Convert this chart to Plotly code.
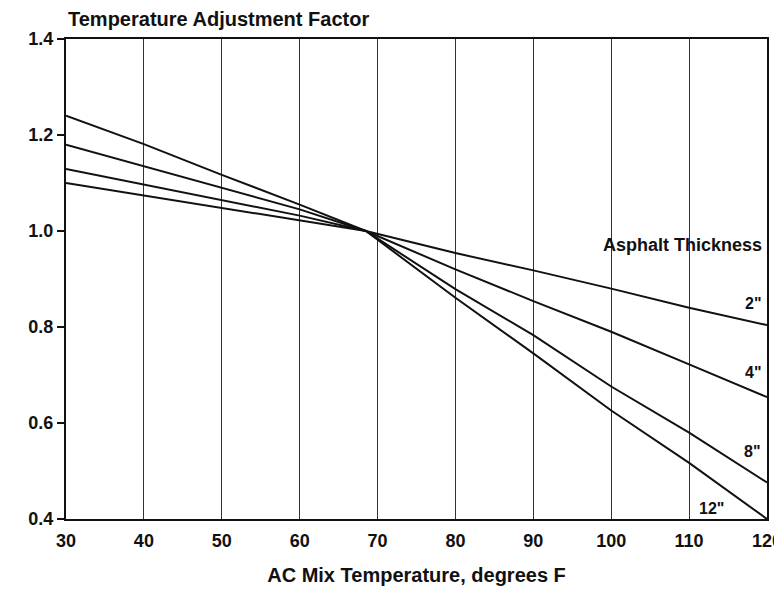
import plotly.graph_objects as go

temps = [30, 40, 50, 60, 68.5, 80, 90, 100, 110, 120]
factor_2in = [1.100, 1.074, 1.047, 1.022, 1.0, 0.954, 0.918, 0.880, 0.840, 0.804]
factor_4in = [1.129, 1.097, 1.064, 1.032, 1.0, 0.920, 0.854, 0.790, 0.722, 0.654]
factor_8in = [1.180, 1.135, 1.089, 1.045, 1.0, 0.879, 0.783, 0.676, 0.580, 0.476]
factor_12in = [1.240, 1.181, 1.117, 1.055, 1.0, 0.861, 0.745, 0.626, 0.517, 0.400]

x_ticks = [30, 40, 50, 60, 70, 80, 90, 100, 110, 120]
y_ticks = [0.4, 0.6, 0.8, 1.0, 1.2, 1.4]

series = [("2\"", factor_2in), ("4\"", factor_4in), ("8\"", factor_8in), ("12\"", factor_12in)]

FONT = "Liberation Sans"

fig = go.Figure()
for name, vals in series:
    fig.add_trace(go.Scatter(x=temps, y=vals, mode="lines", name=name,
                             line=dict(color="#111111", width=2), showlegend=False))

fig.update_layout(
    width=775, height=583,
    margin=dict(l=58, r=16, t=31, b=72),
    paper_bgcolor="white", plot_bgcolor="white",
    font=dict(family=FONT, color="#111111"),
    showlegend=False,
)
fig.update_xaxes(
    range=[30, 120], tickvals=x_ticks, ticktext=[str(v) for v in x_ticks],
    showgrid=True, gridcolor="#333333", gridwidth=1,
    showline=True, linecolor="#111111", linewidth=2, mirror=True,
    ticks="", zeroline=False, automargin=False, ticklabeloverflow="allow",
    ticklabelstandoff=4,
    tickfont=dict(family=FONT, size=18, weight="bold"),
    title=dict(text="AC Mix Temperature, degrees F",
               font=dict(family=FONT, size=20, weight="bold"), standoff=18),
)
fig.update_yaxes(
    range=[0.4, 1.4], tickvals=y_ticks, ticktext=[f"{v:.1f}" for v in y_ticks],
    showgrid=False, showline=True, linecolor="#111111", linewidth=2, mirror=True,
    ticks="outside", ticklen=7, tickcolor="#111111", tickwidth=1.5, zeroline=False,
    automargin=False,
    tickfont=dict(family=FONT, size=18, weight="bold"),
)

fig.add_annotation(text="Temperature Adjustment Factor", xref="paper", yref="paper",
                   x=0.0, y=1.0, xanchor="left", yanchor="bottom", yshift=7, showarrow=False,
                   font=dict(family=FONT, size=20, weight="bold"))
fig.add_annotation(text="Asphalt Thickness", x=119.6, y=0.97, xanchor="right", yanchor="middle",
                   showarrow=False, font=dict(family=FONT, size=18, weight="bold"))
label_pos = [(119.5, 0.848, "right"), (119.5, 0.705, "right"), (119.3, 0.54, "right"), (114.7, 0.421, "right")]
for (name, _), (lx, ly, anc) in zip(series, label_pos):
    fig.add_annotation(text=name, x=lx, y=ly, xanchor=anc, yanchor="middle", showarrow=False,
                       font=dict(family=FONT, size=16, weight="bold"))

fig.write_html("out.html")
